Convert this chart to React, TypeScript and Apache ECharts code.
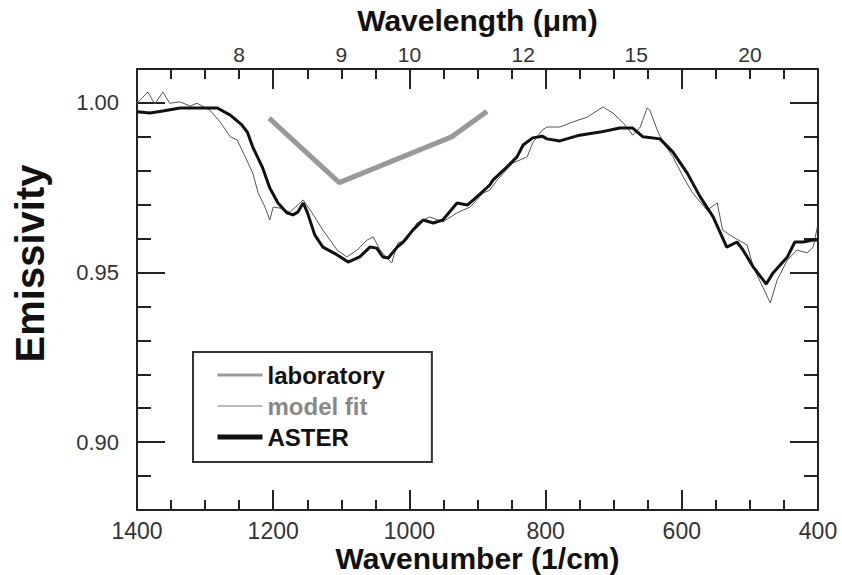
import React, { useEffect, useRef } from "react";
import * as echarts from "echarts";

// ---- data ----
const labWavenumber = [1206, 1159, 1103, 938, 886];
const labEmissivity = [0.9955, 0.9868, 0.9765, 0.99, 0.9975];

const modelWavenumber = [
  1400, 1384, 1374, 1362, 1352, 1337, 1322, 1312, 1293, 1278, 1263, 1253, 1241, 1230, 1222,
  1212, 1205, 1200, 1190, 1175, 1161, 1156, 1143, 1127, 1106, 1092, 1077, 1062, 1053, 1043,
  1026, 1017, 1004, 989, 970, 951, 930, 911, 892, 882, 871, 848, 827, 819, 805, 798, 779, 760,
  739, 716, 701, 686, 672, 661, 651, 647, 636, 628, 613, 598, 584, 563, 548, 540, 525, 504, 495,
  481, 470, 460, 445, 431, 416, 407, 401,
];
const modelEmissivity = [
  0.9999, 1.0032, 0.9997, 1.0032, 0.9999, 1.0003, 0.9991, 0.9999, 0.9979, 0.9944, 0.99, 0.9891,
  0.9841, 0.9793, 0.9734, 0.9693, 0.9655, 0.9693, 0.969, 0.9678, 0.9705, 0.9714, 0.9676, 0.9625,
  0.9566, 0.9546, 0.9566, 0.9596, 0.9605, 0.9566, 0.9528, 0.9587, 0.9596, 0.9646, 0.9664, 0.9649,
  0.9676, 0.9693, 0.9734, 0.9743, 0.9773, 0.9823, 0.9841, 0.9882, 0.992, 0.9929, 0.9929, 0.9944,
  0.9958, 0.9988, 0.997, 0.9941, 0.9905, 0.9929, 0.9985, 0.9979, 0.992, 0.9885, 0.9841, 0.9782,
  0.9734, 0.9684, 0.9705, 0.9625, 0.9605, 0.9581, 0.9516, 0.9457, 0.941, 0.9478, 0.9537, 0.9566,
  0.9558, 0.9575, 0.9634,
];

const asterWavenumber = [
  1400, 1381, 1362, 1337, 1282, 1263, 1246, 1238, 1230, 1216, 1205, 1193, 1180, 1171, 1164, 1156,
  1150, 1139, 1127, 1106, 1090, 1073, 1058, 1048, 1039, 1031, 1018, 1009, 995, 980, 965, 951, 930,
  915, 901, 882, 877, 857, 842, 833, 819, 805, 798, 779, 750, 720, 691, 672, 657, 632, 613, 592,
  573, 554, 534, 519, 510, 495, 476, 466, 445, 434, 422, 407, 400,
];
const asterEmissivity = [
  0.9974, 0.997, 0.9976, 0.9985, 0.9985, 0.9964, 0.9935, 0.9914, 0.987, 0.9811, 0.9749, 0.9705,
  0.9676, 0.967, 0.9678, 0.9705, 0.9678, 0.9611, 0.9575, 0.9552, 0.9531, 0.9546, 0.9575, 0.9572,
  0.9546, 0.9543, 0.9575, 0.959, 0.9625, 0.9655, 0.9646, 0.9655, 0.9705, 0.9699, 0.9723, 0.9758,
  0.9773, 0.9811, 0.9841, 0.9876, 0.9897, 0.9902, 0.9894, 0.9888, 0.9905, 0.9914, 0.9926, 0.9926,
  0.99, 0.9894, 0.9855, 0.9793, 0.9723, 0.9664, 0.9575, 0.959, 0.9566, 0.9516, 0.9466, 0.9499,
  0.9546, 0.959, 0.959, 0.9596, 0.9596,
];

// axis ticks / labels
const wavenumberLabels = [1400, 1200, 1000, 800, 600, 400];
const wavenumberMajorTicks = [1200, 1000, 800, 600];
const wavenumberMinorTicks = [
  1350, 1300, 1250, 1200, 1150, 1100, 1050, 1000, 950, 900, 850, 800, 750, 700, 650, 600, 550,
  500, 450,
];
const wavelengthLabels = ["8", "9", "10", "12", "15", "20"];
const wavelengthLabelPositions = [1250, 1100, 1000, 833, 667, 500];
const emissivityLabels = [0.9, 0.95, 1.0];
const emissivityMinorTicks = [0.89, 0.9, 0.91, 0.92, 0.93, 0.94, 0.95, 0.96, 0.97, 0.98, 0.99, 1.0];

const FONT = "Liberation Sans, Arial, sans-serif";
const INK = "#222";

function pairs(xs: number[], ys: number[]) {
  return xs.map((x, i) => [x, ys[i]]);
}

export default function App() {
  const ref = useRef<HTMLDivElement>(null);
  useEffect(() => {
    if (!ref.current) return;
    const chart = echarts.init(ref.current, null, { renderer: "svg" });
    const xBase = { type: "value", min: 400, max: 1400, inverse: true, gridIndex: 0, splitLine: { show: false } };
    const yBase = { type: "value", min: 0.88, max: 1.01, gridIndex: 0, splitLine: { show: false } };
    const axisLine = { show: true, lineStyle: { color: INK, width: 2 } };
    const noLine = { show: false };
    const noLabel = { show: false };
    const majorX = { show: true, inside: true, length: 20, lineStyle: { color: INK, width: 2 }, customValues: wavenumberMajorTicks };
    const minorX = { show: true, inside: true, length: 10, lineStyle: { color: INK, width: 2 }, customValues: wavenumberMinorTicks };
    const majorY = { show: true, inside: true, length: 28, lineStyle: { color: INK, width: 2 }, customValues: emissivityLabels };
    const minorY = { show: true, inside: true, length: 14, lineStyle: { color: INK, width: 2 }, customValues: emissivityMinorTicks };

    chart.setOption({
      animation: false,
      backgroundColor: "#fff",
      textStyle: { fontFamily: FONT },
      grid: { left: 137, right: 24, top: 69, bottom: 65, containLabel: false, outerBoundsMode: "none" },
      legend: {
        left: 193,
        top: 352,
        orient: "vertical",
        itemWidth: 45,
        itemHeight: 14,
        itemGap: 7,
        padding: [11, 47, 13, 22],
        borderColor: "#333",
        borderWidth: 2,
        itemStyle: { opacity: 0 },
        textStyle: { fontFamily: FONT, fontSize: 24, fontWeight: "bold", color: "#111" },
        data: [
          { name: "laboratory", textStyle: { color: "#111" }, itemStyle: { opacity: 0 }, lineStyle: { width: 3, color: "#999" } },
          { name: "model fit", textStyle: { color: "#888" }, itemStyle: { opacity: 0 }, lineStyle: { width: 1, color: "#777" } },
          { name: "ASTER", textStyle: { color: "#111" }, itemStyle: { opacity: 0 }, lineStyle: { width: 5, color: "#111" } },
        ],
      },
      xAxis: [
        {
          ...xBase,
          position: "bottom",
          axisLine,
          axisTick: majorX,
          axisLabel: {
            customValues: wavenumberLabels,
            formatter: (v: number) => String(v),
            margin: 9,
            fontSize: 23,
            lineHeight: 23,
            color: "#333",
            fontFamily: FONT,
          },
          name: "Wavenumber (1/cm)",
          nameLocation: "middle",
          nameGap: 33,
          nameMoveOverlap: false,
          nameTextStyle: { fontSize: 30, lineHeight: 30, fontWeight: "bold", color: "#111", fontFamily: FONT },
        },
        { ...xBase, position: "bottom", axisLine: noLine, axisTick: minorX, axisLabel: noLabel },
        {
          ...xBase,
          position: "top",
          axisLine,
          axisTick: majorX,
          axisLabel: {
            customValues: wavelengthLabelPositions,
            formatter: (v: number) => {
              const i = wavelengthLabelPositions.indexOf(v);
              return i >= 0 ? wavelengthLabels[i] : "";
            },
            margin: 4,
            fontSize: 21,
            color: "#333",
            fontFamily: FONT,
          },
          name: "Wavelength (μm)",
          nameLocation: "middle",
          nameGap: 34,
          nameMoveOverlap: false,
          nameTextStyle: { fontSize: 30, fontWeight: "bold", color: "#111", fontFamily: FONT },
        },
        { ...xBase, position: "top", axisLine: noLine, axisTick: minorX, axisLabel: noLabel },
      ],
      yAxis: [
        {
          ...yBase,
          position: "left",
          axisLine,
          axisTick: majorY,
          axisLabel: {
            customValues: emissivityLabels,
            formatter: (v: number) => v.toFixed(2),
            margin: 18,
            fontSize: 22,
            color: "#333",
            fontFamily: FONT,
          },
          name: "Emissivity",
          nameLocation: "middle",
          nameGap: 87,
          nameMoveOverlap: false,
          nameTextStyle: { fontSize: 40, fontWeight: "bold", color: "#111", fontFamily: FONT, padding: [0, 0, 0, 52] },
        },
        { ...yBase, position: "left", axisLine: noLine, axisTick: minorY, axisLabel: noLabel },
        { ...yBase, position: "right", axisLine, axisTick: majorY, axisLabel: noLabel },
        { ...yBase, position: "right", axisLine: noLine, axisTick: minorY, axisLabel: noLabel },
      ],
      series: [
        {
          name: "model fit",
          type: "line",
          xAxisIndex: 0,
          yAxisIndex: 0,
          symbol: "none",
          data: pairs(modelWavenumber, modelEmissivity),
          lineStyle: { color: "#555", width: 1 },
          itemStyle: { color: "#555" },
          z: 2,
        },
        {
          name: "ASTER",
          type: "line",
          xAxisIndex: 0,
          yAxisIndex: 0,
          symbol: "none",
          data: pairs(asterWavenumber, asterEmissivity),
          lineStyle: { color: "#111", width: 3 },
          itemStyle: { color: "#111" },
          z: 3,
        },
        {
          name: "laboratory",
          type: "line",
          xAxisIndex: 0,
          yAxisIndex: 0,
          symbol: "none",
          data: pairs(labWavenumber, labEmissivity),
          lineStyle: { color: "#999", width: 5 },
          itemStyle: { color: "#999" },
          z: 4,
        },
      ],
    });
    return () => chart.dispose();
  }, []);
  return (
    <div
      ref={ref}
      style={{ position: "fixed", left: 0, top: 0, width: 842, height: 575, background: "#fff" }}
    />
  );
}
